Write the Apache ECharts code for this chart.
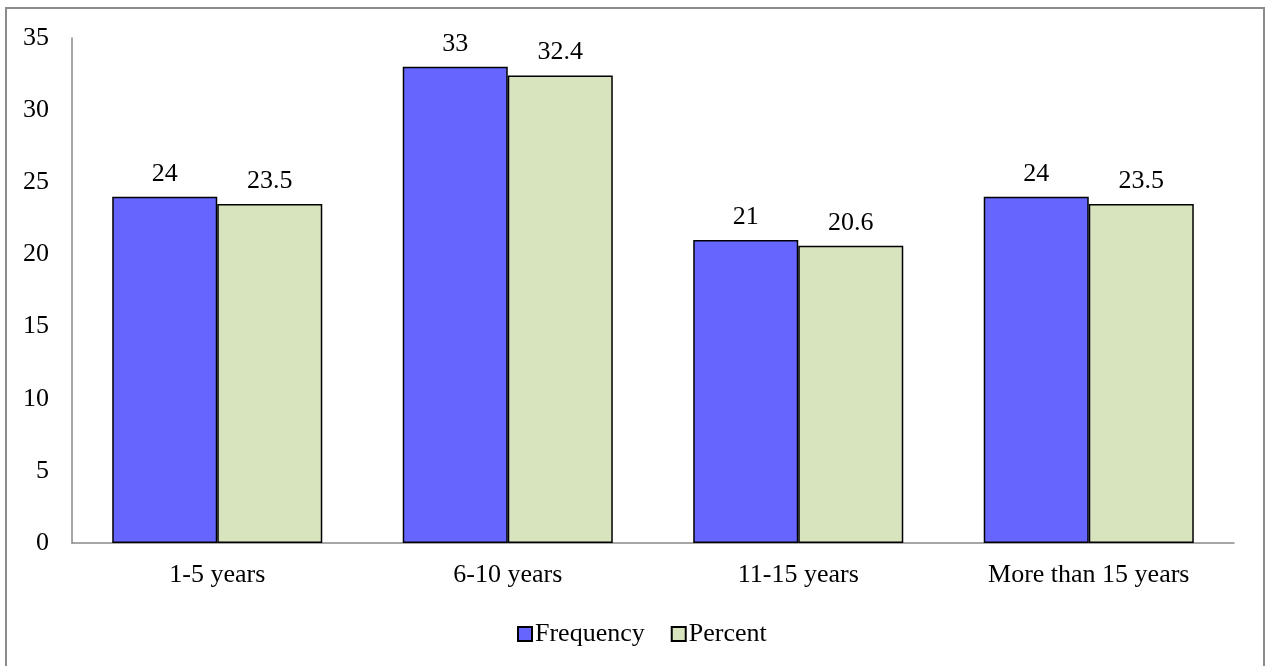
<!DOCTYPE html>
<html>
<head>
<meta charset="utf-8">
<script src="https://cdn.jsdelivr.net/npm/echarts@6/dist/echarts.min.js"></script>
<style>
html, body { margin: 0; padding: 0; background: #fff; }
#main { width: 1266px; height: 666px; }
</style>
</head>
<body>
<div id="main"></div>
<script>
var myChart = echarts.init(document.getElementById('main'));

var categories = ['1-5 years', '6-10 years', '11-15 years', 'More than 15 years'];
var frequency = [24, 33, 21, 24];
var percent = [23.5, 32.4, 20.6, 23.5];
var yTicks = { min: 0, max: 35, interval: 5 };

var font = 'Liberation Serif, Times New Roman, serif';

var labelStyle = {
    show: true,
    position: 'top',
    distance: 10,
    color: '#000',
    fontFamily: font,
    fontSize: 26
};

option = {
    animation: false,
    backgroundColor: '#fff',
    textStyle: { fontFamily: font },
    graphic: [{
        type: 'rect',
        shape: { x: 6, y: 8, width: 1258, height: 700 },
        style: { fill: 'none', stroke: '#8c8c8c', lineWidth: 2 },
        silent: true
    }],
    grid: {
        left: 72,
        right: 32,
        top: 38,
        bottom: 123
    },
    legend: {
        left: 512,
        top: 616,
        itemWidth: 14,
        itemHeight: 14,
        itemGap: 26,
        icon: 'rect',
        textStyle: {
            fontFamily: font,
            fontSize: 26,
            color: '#000',
            padding: [0, 0, 0, -2]
        },
        data: ['Frequency', 'Percent']
    },
    xAxis: {
        type: 'category',
        data: categories,
        axisTick: { show: false },
        axisLine: { lineStyle: { color: '#898989', width: 1.5 } },
        axisLabel: {
            color: '#000',
            fontFamily: font,
            fontSize: 26,
            margin: 19
        }
    },
    yAxis: {
        type: 'value',
        min: yTicks.min,
        max: yTicks.max,
        interval: yTicks.interval,
        splitLine: { show: false },
        axisTick: { show: false },
        axisLine: { show: true, lineStyle: { color: '#898989', width: 1.5 } },
        axisLabel: {
            color: '#000',
            fontFamily: font,
            fontSize: 26,
            margin: 23
        }
    },
    series: [{
        name: 'Frequency',
        type: 'bar',
        data: frequency,
        barGap: '0%',
        barCategoryGap: '27.7%',
        itemStyle: { color: '#6666ff', borderColor: '#000', borderWidth: 1.5 },
        label: labelStyle
    }, {
        name: 'Percent',
        type: 'bar',
        data: percent,
        barGap: '0%',
        barCategoryGap: '27.7%',
        itemStyle: { color: '#d8e4bd', borderColor: '#000', borderWidth: 1.5 },
        label: labelStyle
    }]
};

myChart.setOption(option);
window.onresize = myChart.resize;
</script>
</body>
</html>
